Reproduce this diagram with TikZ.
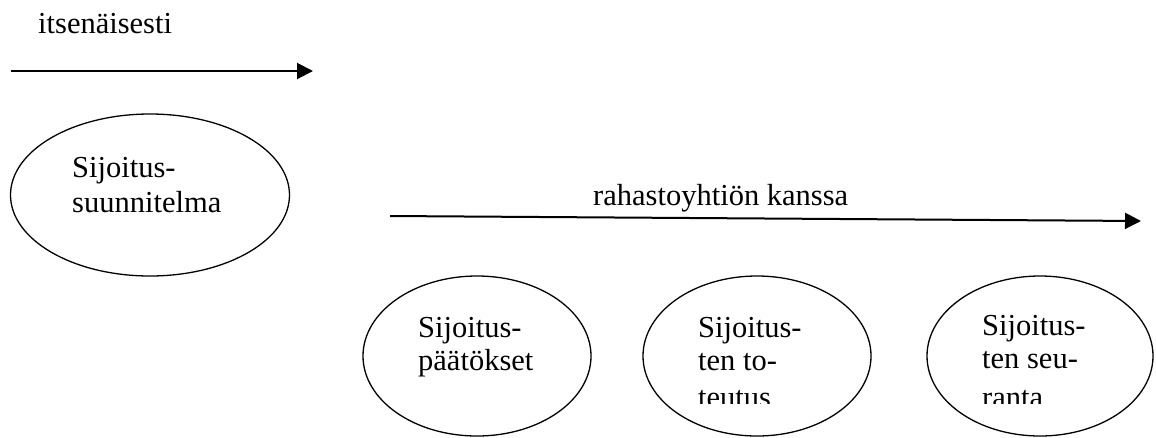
\documentclass[tikz,border=0pt]{standalone}
\usepackage{fontspec}
\setmainfont{Liberation Serif}
\usetikzlibrary{shapes.geometric,arrows.meta}
\tikzset{
  lbl/.style={inner sep=0pt, font=\fontsize{30.5}{34}\selectfont, align=left},
  ell/.style={draw, ellipse, line width=1.3pt, inner sep=0pt},
  arr/.style={line width=2pt, -{Triangle[length=16pt,width=16pt]}}
}
\begin{document}
\begin{tikzpicture}[x=1pt,y=-1pt]
\useasboundingbox (0,0) rectangle (1156,437);
% top arrow
\node[lbl, anchor=base west] (t1) at (38,33) {itsenäisesti};
\coordinate (a1s) at (11,71);
\coordinate (a1e) at (313,71);
\draw[arr] (a1s) -- (a1e);
% ellipse 1
\node[ell, minimum width=279pt, minimum height=162pt] (e1) at (150,195) {};
\node[lbl, anchor=base west] (e1a) at (72,177) {Sijoitus-};
\node[lbl, anchor=base west] (e1b) at (72,212) {suunnitelma};
% second arrow
\node[lbl, anchor=base west] (t2) at (593,205) {rahastoyhtiön kanssa};
\coordinate (a2s) at (390,216);
\coordinate (a2e) at (1141,221);
\draw[arr] (a2s) -- (a2e);
% bottom ellipses
\node[ell, minimum width=228pt, minimum height=160pt] (e2) at (477,356) {};
\node[ell, minimum width=228pt, minimum height=160pt] (e3) at (757,356) {};
\node[ell, minimum width=226pt, minimum height=160pt] (e4) at (1040,356) {};
\begin{scope}
\clip (0,0) rectangle (1156,403);
\node[lbl, anchor=base west] (e2a) at (418,337) {Sijoitus-};
\node[lbl, anchor=base west] (e2b) at (418,370) {päätökset};
\node[lbl, anchor=base west] (e3a) at (698,337) {Sijoitus-};
\node[lbl, anchor=base west] (e3b) at (698,370) {ten to-};
\node[lbl, anchor=base west] (e3c) at (698,407) {teutus};
\node[lbl, anchor=base west] (e4a) at (982,335) {Sijoitus-};
\node[lbl, anchor=base west] (e4b) at (982,368) {ten seu-};
\node[lbl, anchor=base west] (e4c) at (982,407) {ranta};
\end{scope}
\end{tikzpicture}
\end{document}
